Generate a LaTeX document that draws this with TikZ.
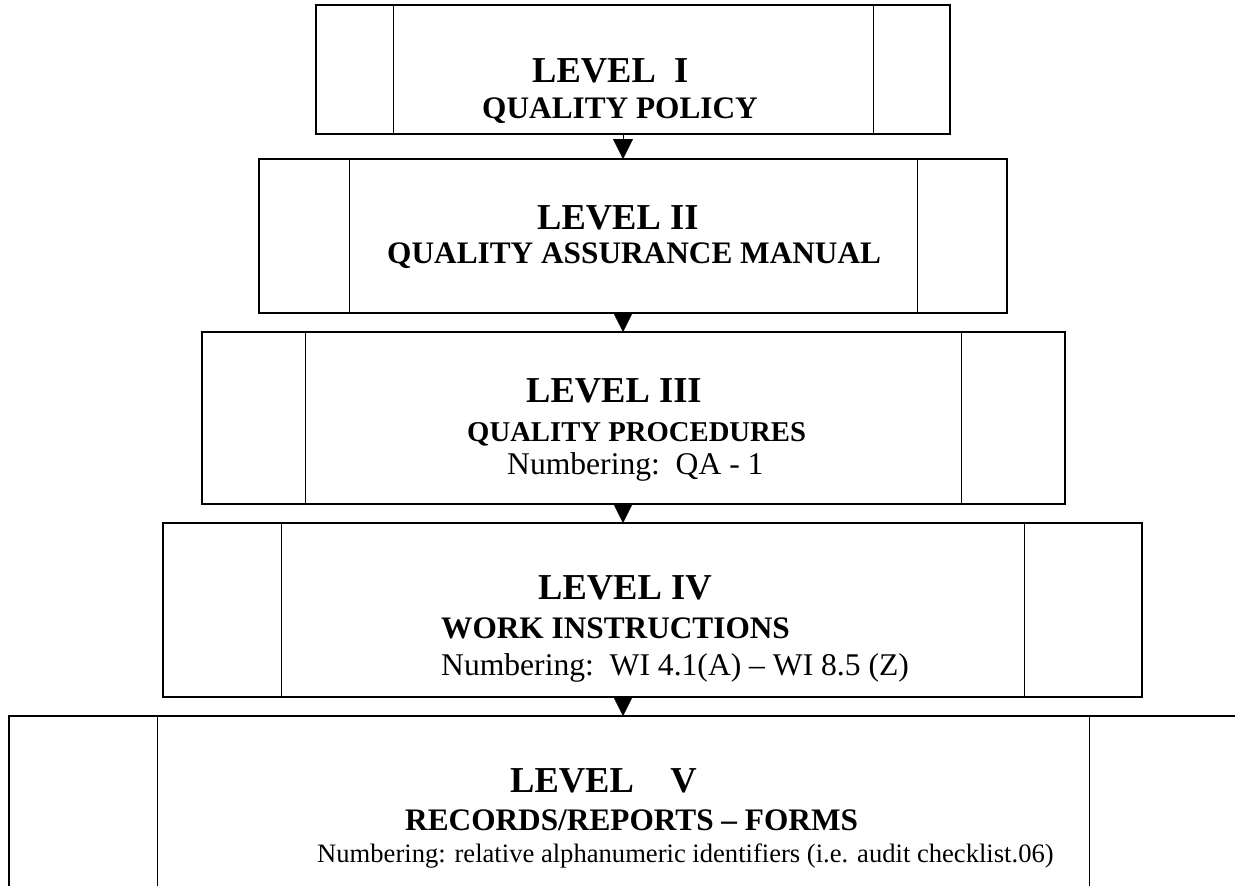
\documentclass[tikz,border=0pt]{standalone}
\usepackage{fontspec}
\setmainfont{Liberation Serif}
\usetikzlibrary{arrows.meta}
\begin{document}
\begin{tikzpicture}[x=1pt,y=-1pt,
  levelbox/.style={draw, line width=1.5pt, inner sep=0pt, outer sep=0pt},
  divider/.style={line width=1pt},
  leveltitle/.style={anchor=base west, inner sep=0pt, font=\fontsize{36.5}{40}\selectfont\bfseries},
  heading/.style={anchor=base west, inner sep=0pt, font=\fontsize{31.3}{36}\selectfont\bfseries},
  subheading/.style={anchor=base west, inner sep=0pt, font=\fontsize{28.7}{33}\selectfont\bfseries},
  numbering/.style={anchor=base west, inner sep=0pt, font=\fontsize{31.6}{36}\selectfont},
  smallnum/.style={anchor=base west, inner sep=0pt, font=\fontsize{26.6}{30}\selectfont},
  flow/.style={line width=0.1pt, -{Triangle[length=20pt,width=20pt]}},
]
\useasboundingbox (0,0) rectangle (1235,886);
\clip (0,0) rectangle (1235,886);

% level boxes
\node[levelbox, minimum width=634pt, minimum height=129pt] (b1) at (633,69.5) {};
\node[levelbox, minimum width=748pt, minimum height=154pt] (b2) at (633,236) {};
\node[levelbox, minimum width=863pt, minimum height=172pt] (b3) at (633.5,418) {};
\node[levelbox, minimum width=979pt, minimum height=174pt] (b4) at (652.5,610) {};
\node[levelbox, minimum width=1236pt, minimum height=184pt] (b5) at (627,808) {};

% side panels
\draw[divider] ([xshift=77pt]b1.north west) -- ([xshift=77pt]b1.south west);
\draw[divider] ([xshift=-77pt]b1.north east) -- ([xshift=-77pt]b1.south east);
\draw[divider] ([xshift=90pt]b2.north west) -- ([xshift=90pt]b2.south west);
\draw[divider] ([xshift=-90pt]b2.north east) -- ([xshift=-90pt]b2.south east);
\draw[divider] ([xshift=103pt]b3.north west) -- ([xshift=103pt]b3.south west);
\draw[divider] ([xshift=-104pt]b3.north east) -- ([xshift=-104pt]b3.south east);
\draw[divider] ([xshift=118pt]b4.north west) -- ([xshift=118pt]b4.south west);
\draw[divider] ([xshift=-118pt]b4.north east) -- ([xshift=-118pt]b4.south east);
\draw[divider] ([xshift=148pt]b5.north west) -- ([xshift=148pt]b5.south west);
\draw[divider] ([xshift=-156pt]b5.north east) -- ([xshift=-156pt]b5.south east);

% texts
\node[leveltitle] (t1a) at (532,82) {LEVEL\ \ I};
\node[heading]    (t1b) at (482,118) {QUALITY POLICY};

\node[leveltitle] (t2a) at (537,229) {LEVEL II};
\node[heading]    (t2b) at (387,263) {QUALITY ASSURANCE MANUAL};

\node[leveltitle] (t3a) at (526,402) {LEVEL III};
\node[subheading] (t3b) at (467,441) {QUALITY PROCEDURES};
\node[numbering]  (t3c) at (507,474) {Numbering:\ \ QA - 1};

\node[leveltitle] (t4a) at (538,599) {LEVEL IV};
\node[heading]    (t4b) at (441,638) {WORK INSTRUCTIONS};
\node[numbering]  (t4c) at (441,675) {Numbering:\ \ WI 4.1(A) – WI 8.5 (Z)};

\node[leveltitle] (t5a) at (510,792) {LEVEL\ \ \ \ V};
\node[heading]    (t5b) at (405,830) {RECORDS/REPORTS – FORMS};
\node[smallnum]   (t5c) at (317,862) {Numbering: relative alphanumeric identifiers (i.e. audit checklist.06)};

% flow between levels
\coordinate (axis) at (623,0);
\draw[flow] (b1.south -| axis) -- (b2.north -| axis);
\draw[flow] (b2.south -| axis) -- (b3.north -| axis);
\draw[flow] (b3.south -| axis) -- (b4.north -| axis);
\draw[flow] (b4.south -| axis) -- (b5.north -| axis);
\end{tikzpicture}
\end{document}
